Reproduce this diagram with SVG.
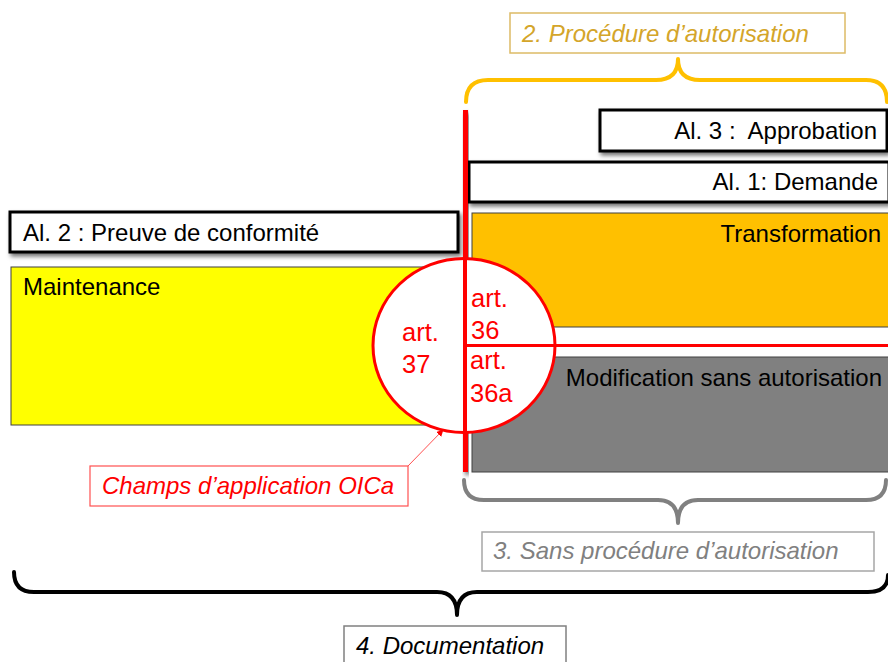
<svg xmlns="http://www.w3.org/2000/svg" width="888" height="662" viewBox="0 0 888 662">
<style>
  text { font-family: "Liberation Sans", Arial, sans-serif; font-size: 24px; }
  .blk { fill: #000; }
  .red { fill: #FF0000; }
  .art { font-size: 25.5px; }
  .al { fill: #fff; stroke: #000; stroke-width: 3; }
  .brace { fill: none; stroke-width: 4; stroke-linecap: round; stroke-linejoin: round; }
  .it { font-style: italic; }
</style>
<defs>
  <filter id="sh" x="-5%" y="-20%" width="115%" height="160%">
    <feDropShadow dx="2" dy="3" stdDeviation="2" flood-color="#000" flood-opacity="0.55"/>
  </filter>
  <marker id="arr" viewBox="0 0 10 10" refX="9" refY="5" markerWidth="7" markerHeight="7" orient="auto" markerUnits="userSpaceOnUse">
    <path d="M0,0 L10,5 L0,10 z" fill="#FF0000"/>
  </marker>
</defs>

<g id="brace-procedure">
  <path class="brace" stroke="#FFC000" d="M466,102 Q466,80 488,80 L656,80 Q678,80 678,59 Q678,80 700,80 L866,80 Q887,80 887,102"/>
</g>
<g id="label-procedure">
  <rect x="510" y="13" width="335" height="40" fill="#fff" stroke="#DDBB66" stroke-width="1.5"/>
  <text x="522" y="42" class="it" fill="#D4A52A">2. Procédure d’autorisation</text>
</g>

<g id="al3">
  <rect class="al" x="600" y="110" width="287" height="41" filter="url(#sh)"/>
  <text x="877" y="139" class="blk" text-anchor="end">Al. 3 :&#160; Approbation</text>
</g>
<g id="al1">
  <rect class="al" x="469" y="162" width="420" height="40" filter="url(#sh)"/>
  <text x="878" y="190" class="blk" text-anchor="end">Al. 1: Demande</text>
</g>
<g id="al2">
  <rect class="al" x="10" y="212" width="448" height="40" filter="url(#sh)"/>
  <text x="23" y="241" class="blk">Al. 2 : Preuve de conformité</text>
</g>

<g id="transformation">
  <rect x="472" y="213" width="418" height="114" fill="#FFC000" stroke="#404040" stroke-width="1"/>
  <text x="881" y="242" class="blk" text-anchor="end">Transformation</text>
</g>
<g id="modification">
  <rect x="472" y="357" width="418" height="115" fill="#808080" stroke="#404040" stroke-width="1"/>
  <text x="882" y="386" class="blk" text-anchor="end">Modification sans autorisation</text>
</g>
<g id="maintenance">
  <rect x="11" y="267" width="452" height="158" fill="#FFFF00" stroke="#404040" stroke-width="1"/>
  <text x="23" y="295" class="blk">Maintenance</text>
</g>

<g id="brace-sans">
  <path class="brace" stroke="#808080" d="M464,480 Q464,500 484,500 L658,500 Q678,500 678,523 Q678,500 698,500 L866,500 Q886,500 886,480"/>
</g>
<g id="label-sans">
  <rect x="482" y="532" width="392" height="39" fill="#fff" stroke="#A6A6A6" stroke-width="1.5"/>
  <text x="493" y="559" class="it" fill="#808080">3. Sans procédure d’autorisation</text>
</g>

<g id="brace-documentation">
  <path class="brace" stroke="#000" d="M14,572 Q14,592 34,592 L437,592 Q457,592 457,615 Q457,592 477,592 L868,592 Q888,592 888,575"/>
</g>
<g id="label-documentation">
  <rect x="344" y="626" width="222" height="40" fill="#fff" stroke="#808080" stroke-width="1.5"/>
  <text x="356" y="654" class="it blk">4. Documentation</text>
</g>

<g id="oica-boundary">
  <rect x="463" y="110" width="5" height="362" fill="#FF0000" filter="url(#sh)"/>
  <line x1="555" y1="345.5" x2="890" y2="345.5" stroke="#FF0000" stroke-width="3"/>
</g>

<g id="articles">
  <ellipse cx="464" cy="345.5" rx="91" ry="87" fill="#fff" stroke="#FF0000" stroke-width="3"/>
  <line x1="465" y1="258" x2="465" y2="433" stroke="#FF0000" stroke-width="4"/>
  <line x1="465" y1="345.5" x2="555" y2="345.5" stroke="#FF0000" stroke-width="3"/>
  <text x="402" y="341" class="red art">art.</text>
  <text x="402" y="373" class="red art">37</text>
  <text x="471" y="307" class="red art">art.</text>
  <text x="471" y="339" class="red art">36</text>
  <text x="470" y="369" class="red art">art.</text>
  <text x="470" y="402" class="red art">36a</text>
</g>

<g id="label-oica">
  <rect x="90" y="466" width="318" height="40" fill="#fff" stroke="#FF5050" stroke-width="1.2"/>
  <text x="102" y="494" class="it red">Champs d’application OICa</text>
</g>

<g id="connectors">
  <line x1="408" y1="466" x2="443" y2="430" stroke="#FF5050" stroke-width="1" marker-end="url(#arr)"/>
</g>
</svg>
